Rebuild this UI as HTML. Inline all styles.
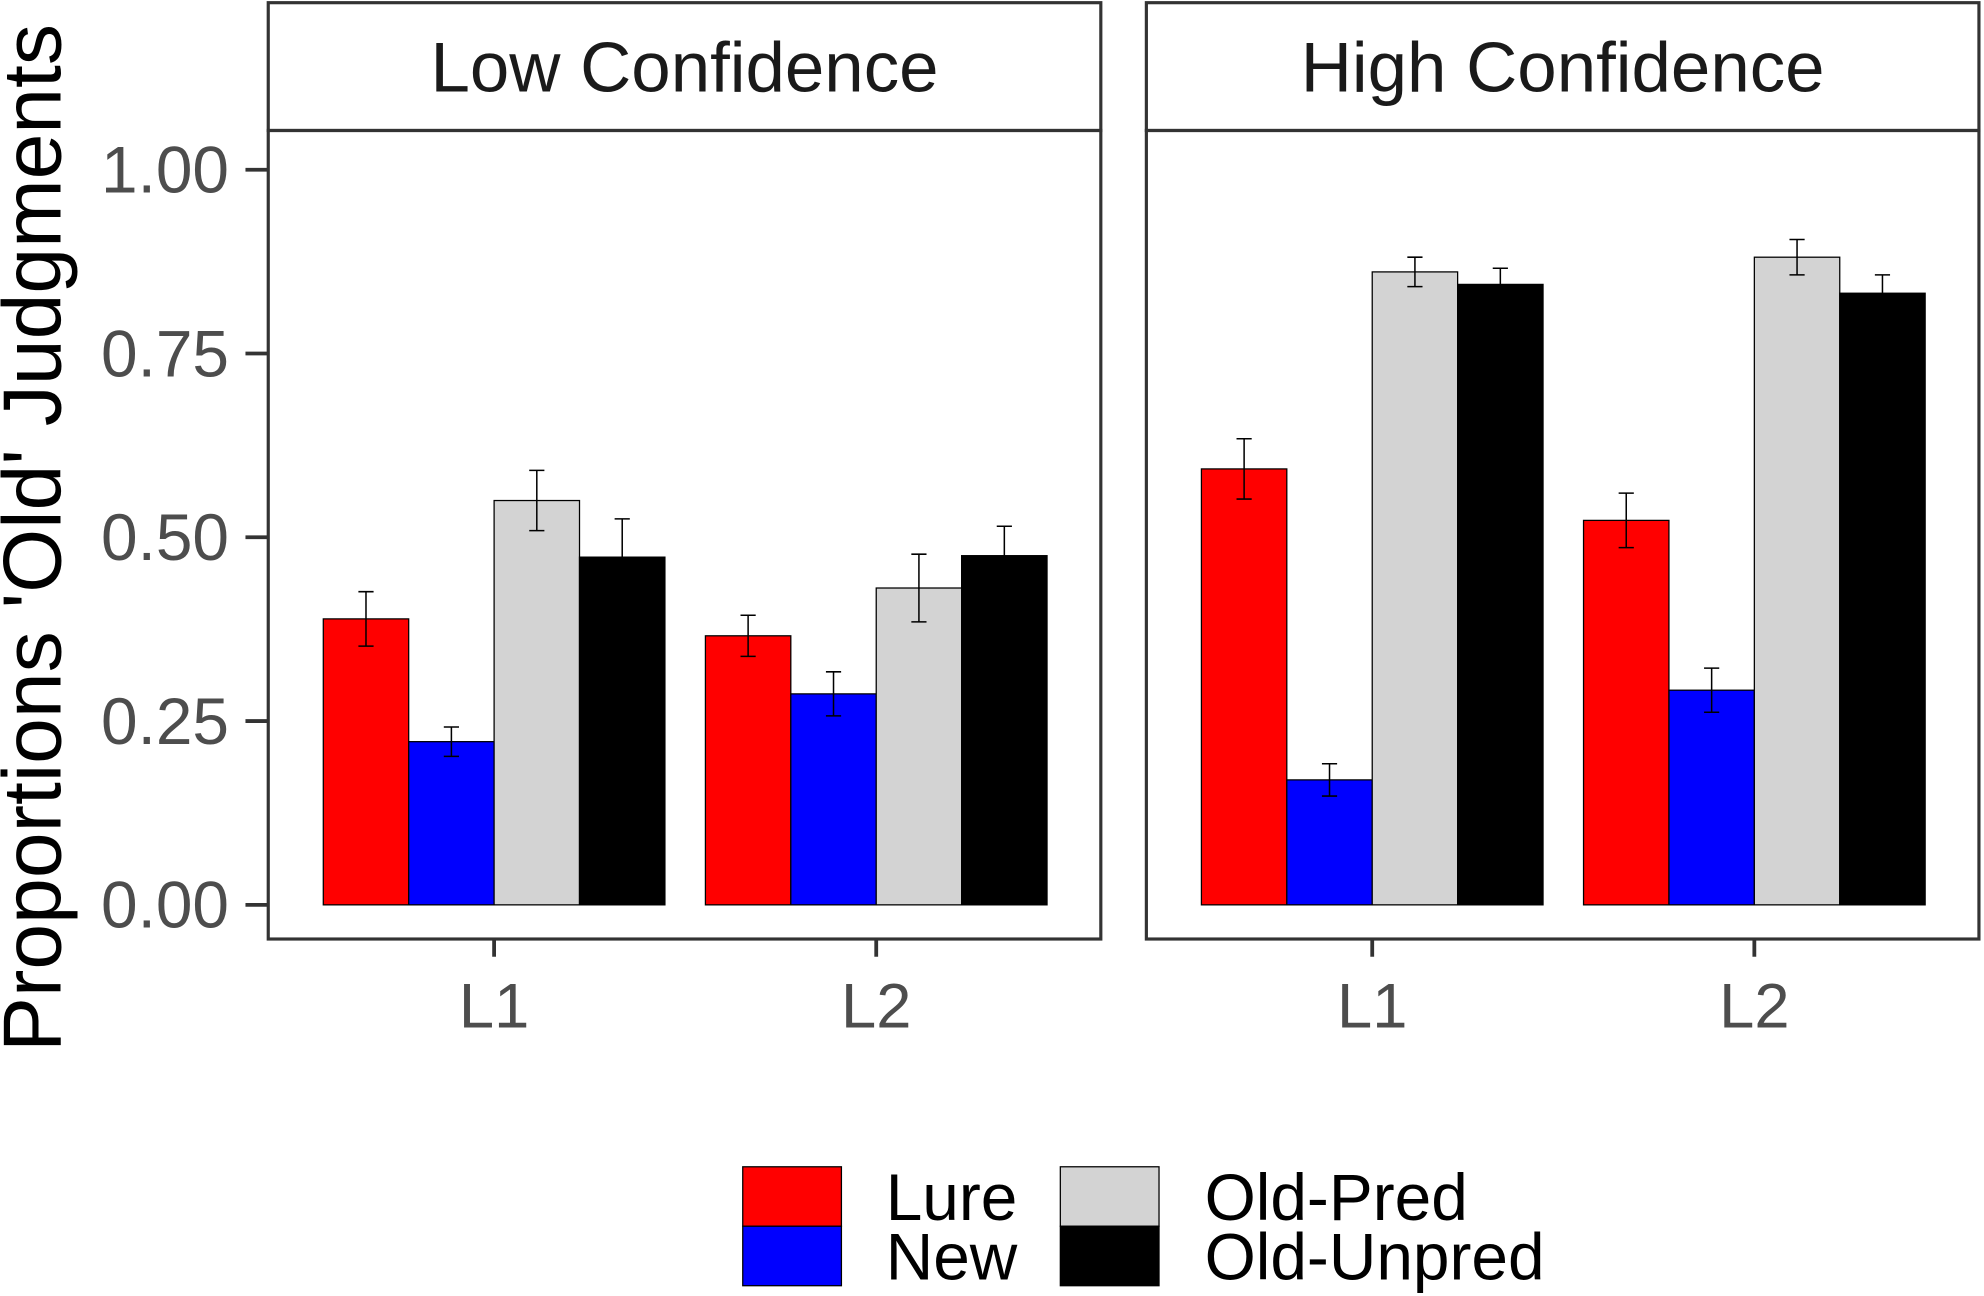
<!DOCTYPE html>
<html><head><meta charset="utf-8"><style>
html,body{margin:0;padding:0;background:#fff;}
svg{display:block;font-family:"Liberation Sans",Arial,sans-serif;}
</style></head><body>
<svg id="chart" width="1984" height="1296" viewBox="0 0 1568 1024">
<g id="g"></g>
</svg>
<script>
const panels = ["Low Confidence","High Confidence"];
const groups = ["L1","L2"];
const series = ["Lure","New","Old-Pred","Old-Unpred"];
const colors = ["#ff0000","#0000ff","#d3d3d3","#000000"];
// values[panel][group][series]
const lowValues = [[0.389,0.222,0.550,0.473],[0.366,0.287,0.431,0.475]];
const highValues = [[0.593,0.170,0.861,0.844],[0.523,0.292,0.881,0.832]];
const lowErr = [[0.037,0.020,0.041,0.052],[0.028,0.030,0.046,0.040]];
const highErr = [[0.041,0.022,0.020,0.022],[0.037,0.030,0.024,0.025]];
const yTicks = [0,0.25,0.5,0.75,1.0];
const yTickLabels = ["0.00","0.25","0.50","0.75","1.00"];

const NS="http://www.w3.org/2000/svg";
const g=document.getElementById('g');
function el(t,a,txt){const e=document.createElementNS(NS,t);for(const k in a)e.setAttribute(k,a[k]);if(txt!==undefined)e.textContent=txt;g.appendChild(e);return e;}
const y0=715,yScale=581;
const yPos=v=>y0-v*yScale;
const panelX=[212,906], panelW=658;
const groupOffsets=[178.5,480.5];
const barW=67.5;
const xPos=(p,gi,si)=>panelX[p]+groupOffsets[gi]-2*barW+si*barW;
const allVals=[lowValues,highValues], allErr=[lowErr,highErr];

panels.forEach((name,p)=>{
  const px=panelX[p];
  const strip=el('rect',{x:px,y:2,width:panelW,height:101,fill:'#fff',stroke:'#333',"stroke-width":2.5});
  
  
  const st=el('text',{x:px+panelW/2,y:72,"text-anchor":"middle","font-size":56,fill:'#1a1a1a'},name);
  
  
  groups.forEach((gn,gi)=>{
    series.forEach((sn,si)=>{
      const v=allVals[p][gi][si], e=allErr[p][gi][si];
      const x=xPos(p,gi,si);
      const r=el('rect',{x:x,y:yPos(v),width:barW,height:yPos(0)-yPos(v),fill:colors[si],stroke:'#000',"stroke-width":1});
      
      
      const cx=x+barW/2;
      const eb=el('path',{d:`M${cx-6},${yPos(v+e)}H${cx+6}M${cx},${yPos(v+e)}V${yPos(v-e)}M${cx-6},${yPos(v-e)}H${cx+6}`,stroke:'#000',"stroke-width":1.2,fill:'none'});
      
      
    });
    const tx=px+groupOffsets[gi];
    el('line',{x1:tx,x2:tx,y1:742,y2:756,stroke:'#333',"stroke-width":3});
    const tl=el('text',{x:tx,y:812,"text-anchor":"middle","font-size":50,fill:'#4d4d4d'},gn);
    
    
  });
  const pb=el('rect',{x:px,y:103,width:panelW,height:639,fill:'none',stroke:'#333',"stroke-width":2.5});
  
  
});
yTicks.forEach((t,i)=>{
  el('line',{x1:194,x2:212,y1:yPos(t),y2:yPos(t),stroke:'#333',"stroke-width":3});
  const l=el('text',{x:181,y:yPos(t)+18,"text-anchor":"end","font-size":52,fill:'#4d4d4d'},yTickLabels[i]);
  
  
});
const yt=el('text',{x:0,y:0,transform:'translate(48,425) rotate(-90)',"text-anchor":"middle","font-size":65,fill:'#000'},"Proportions 'Old' Judgments");


const legPos=[[587,922,700],[587,969,700],[838,922,952],[838,969,952]];
series.forEach((sn,si)=>{
  const [kx,ky,lx]=legPos[si];
  const k=el('rect',{x:kx,y:ky,width:78,height:47,fill:colors[si],stroke:'#000',"stroke-width":1});
  
  
  const t=el('text',{x:lx,y:ky+42,"font-size":52,fill:'#000'},sn);
  
  
});
</script>
</body></html>
